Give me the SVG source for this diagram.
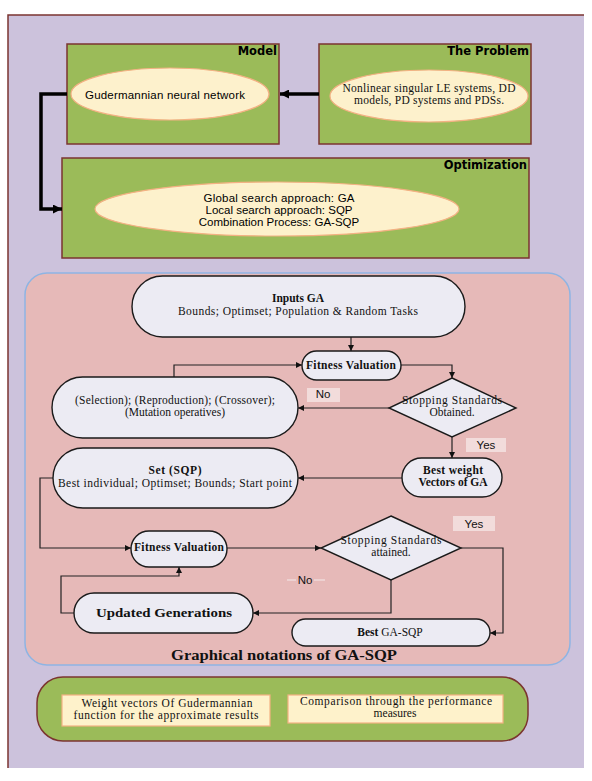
<svg xmlns="http://www.w3.org/2000/svg" width="592" height="781" viewBox="0 0 592 781">
<defs>
<style>
.box{fill:#9bbb59;stroke:#7b3530;stroke-width:1.5}
.ell{fill:#fdf1cc;stroke:#f4b183;stroke-width:1.2}
.ttl{font-family:"DejaVu Sans",sans-serif;font-weight:bold;font-size:11.5px;fill:#000;text-anchor:end}
.sans{font-family:"Liberation Sans",Arial,sans-serif;font-size:11.5px;fill:#000;text-anchor:middle}
.ser{font-family:"Liberation Serif","Times New Roman",serif;font-size:11.5px;fill:#111;text-anchor:middle}
.serb{font-family:"Liberation Serif","Times New Roman",serif;font-size:11.5px;font-weight:bold;fill:#111;text-anchor:middle}
.st{fill:#ecebf3;stroke:#1a1a1a;stroke-width:1.4}
.thick{fill:none;stroke:#000;stroke-width:3.5}
.thin{fill:none;stroke:#222;stroke-width:1.2}
.lbl{fill:#f2dcdb}
.lt{font-family:"Liberation Sans",Arial,sans-serif;font-size:11.5px;fill:#111;text-anchor:middle}
.ib{fill:#fef2cb;stroke:#f4b183;stroke-width:1.2}
</style>
<marker id="ah" viewBox="0 0 10 10" refX="10" refY="5" markerWidth="6" markerHeight="6" markerUnits="userSpaceOnUse" orient="auto"><path d="M0,0 L10,5 L0,10 z" fill="#111"/></marker>
<marker id="ahk" viewBox="0 0 10 10" refX="10" refY="5" markerWidth="12" markerHeight="9" markerUnits="userSpaceOnUse" orient="auto"><path d="M0,0 L10,5 L0,10 z" fill="#000"/></marker>
</defs>
<rect x="0" y="0" width="592" height="781" fill="#fff"/>
<rect x="8" y="15" width="576" height="753" fill="#ccc2dc"/>
<path d="M8,768 V15 H584" fill="none" stroke="#7b3530" stroke-width="1.5"/>

<g id="model">
<rect class="box" x="67" y="44" width="212" height="100"/>
<text class="ttl" x="277" y="55">Model</text>
<ellipse class="ell" cx="170" cy="94" rx="99" ry="26"/>
<text class="sans" x="165" y="99" textLength="160">Gudermannian neural network</text>
</g>

<g id="problem">
<rect class="box" x="319" y="44" width="212" height="100"/>
<text class="ttl" x="529" y="55">The Problem</text>
<ellipse class="ell" cx="429" cy="96" rx="99" ry="26"/>
<text class="ser" x="429" y="92" textLength="173">Nonlinear singular LE systems, DD</text>
<text class="ser" x="429" y="104" textLength="150">models, PD systems and PDSs.</text>
</g>

<g id="optimization">
<rect class="box" x="62" y="158" width="467" height="100"/>
<text class="ttl" x="527" y="169">Optimization</text>
<ellipse class="ell" cx="277" cy="209" rx="182" ry="27"/>
<text class="sans" x="279" y="202" textLength="151">Global search approach: GA</text>
<text class="sans" x="279" y="214">Local search approach: SQP</text>
<text class="sans" x="279" y="226">Combination Process: GA-SQP</text>
</g>

<g id="ga-sqp-panel">
<rect x="25" y="273" width="545" height="392" rx="22" fill="#e6b9b8" stroke="#8eb4e3" stroke-width="1.5"/>
<text x="284" y="660" font-family="Liberation Serif,serif" font-size="15.5px" font-weight="bold" fill="#111" text-anchor="middle" textLength="226" lengthAdjust="spacingAndGlyphs">Graphical notations of  GA-SQP</text>
</g>

<g id="connectors">
<path class="thick" d="M319,94 H280" marker-end="url(#ahk)"/>
<path class="thick" d="M67,94 H41 V209 H62" marker-end="url(#ahk)"/>
<path class="thin" d="M351,337 V351" marker-end="url(#ah)"/>
<path class="thin" d="M401,365 H452 V378" marker-end="url(#ah)"/>
<path class="thin" d="M389,408 H298" marker-end="url(#ah)"/>
<path class="thin" d="M174,377 V365 H302" marker-end="url(#ah)"/>
<path class="thin" d="M452,437 V458" marker-end="url(#ah)"/>
<path class="thin" d="M402,478 H298" marker-end="url(#ah)"/>
<path class="thin" d="M53,478 H40 V548 H131" marker-end="url(#ah)"/>
<path class="thin" d="M227,548 H321" marker-end="url(#ah)"/>
<path class="thin" d="M461,548 H503 V633 H490" marker-end="url(#ah)"/>
<path class="thin" d="M391,580 V613 H253" marker-end="url(#ah)"/>
<path class="thin" d="M74,613 H61 V576 H179 V567" marker-end="url(#ah)"/>
</g>

<g id="inputs-ga">
<rect class="st" x="132" y="276" width="333" height="61" rx="30.5"/>
<text class="serb" x="298" y="302" font-size="12.5px">Inputs GA</text>
<text class="ser" x="298" y="315" textLength="240">Bounds; Optimset; Population &amp; Random Tasks</text>
</g>

<g id="fitness-1">
<rect class="st" x="302" y="351" width="99" height="29" rx="14.5"/>
<text class="serb" x="351" y="369" textLength="90">Fitness Valuation</text>
</g>

<g id="stop-1">
<polygon class="st" points="452,378 516,408 452,437 389,408"/>
<text class="ser" x="452" y="404" textLength="100">Stopping Standards</text>
<text class="ser" x="452" y="416">Obtained.</text>
</g>

<g id="label-no-1">
<rect class="lbl" x="307" y="388" width="33" height="14"/>
<text class="lt" x="323" y="398">No</text>
</g>

<g id="operators">
<rect class="st" x="52" y="377" width="246" height="61" rx="30.5"/>
<text class="ser" x="175" y="404" textLength="200">(Selection); (Reproduction); (Crossover);</text>
<text class="ser" x="175" y="416">(Mutation operatives)</text>
</g>

<g id="label-yes-1">
<rect class="lbl" x="466" y="438" width="40" height="14"/>
<text class="lt" x="486" y="449">Yes</text>
</g>

<g id="best-weight">
<rect class="st" x="402" y="458" width="100" height="39" rx="19.5"/>
<text class="serb" x="453" y="474" textLength="60">Best weight</text>
<text class="serb" x="453" y="486">Vectors of GA</text>
</g>

<g id="set-sqp">
<rect class="st" x="53" y="448" width="245" height="60" rx="30"/>
<text class="serb" x="175" y="474" font-size="12px" textLength="53">Set (SQP)</text>
<text class="ser" x="175" y="486.5" fill="#1c1c3a" textLength="234">Best individual; Optimset; Bounds; Start point</text>
</g>

<g id="fitness-2">
<rect class="st" x="131" y="531" width="96" height="36" rx="18"/>
<text class="serb" x="179" y="551" textLength="90">Fitness Valuation</text>
</g>

<g id="stop-2">
<polygon class="st" points="391,516 461,548 391,580 321,548"/>
<text class="ser" x="391" y="544" textLength="101">Stopping Standards</text>
<text class="ser" x="391" y="556">attained.</text>
</g>

<g id="label-yes-2">
<rect class="lbl" x="453" y="516" width="42" height="15"/>
<text class="lt" x="474" y="528" font-size="13px">Yes</text>
</g>

<g id="label-no-2">
<path d="M287,580 H296 M314,580 H325" stroke="#f4eaea" stroke-width="1"/>
<text class="lt" x="305" y="584" font-size="12px">No</text>
</g>

<g id="updated-generations">
<rect class="st" x="74" y="593" width="179" height="40" rx="20"/>
<text class="serb" x="164" y="617" font-size="16px" textLength="136" lengthAdjust="spacingAndGlyphs">Updated Generations</text>
</g>

<g id="best-ga-sqp">
<rect class="st" x="292" y="619" width="198" height="27" rx="13.5"/>
<text class="ser" x="390" y="636"><tspan font-weight="bold">Best</tspan> GA-SQP</text>
</g>

<g id="results">
<rect x="37" y="677" width="491" height="64" rx="26" fill="#9bbb59" stroke="#7b3530" stroke-width="1.5"/>
<rect class="ib" x="62" y="695" width="208" height="31"/>
<text class="ser" x="167" y="707" textLength="171">Weight vectors Of Gudermannian</text>
<text class="ser" x="166" y="719" textLength="185">function for the approximate results</text>
<rect class="ib" x="288" y="695" width="215" height="28"/>
<text class="ser" x="396" y="705" textLength="192">Comparison through the performance</text>
<text class="ser" x="395" y="717">measures</text>
</g>
</svg>
